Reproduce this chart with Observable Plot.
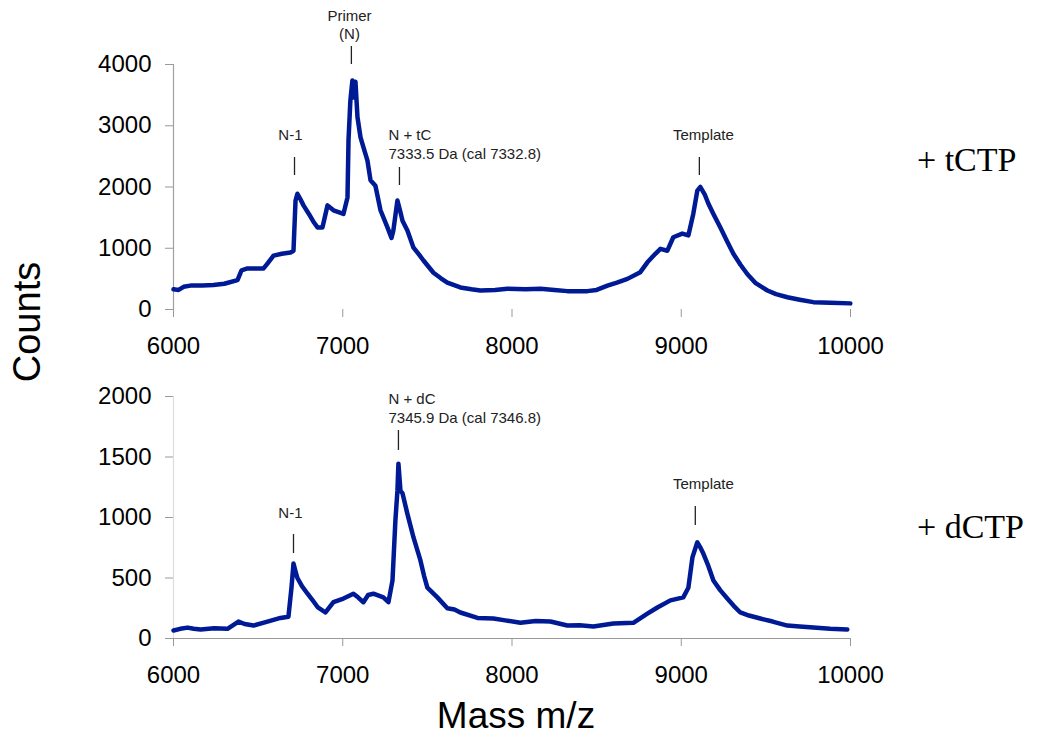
<!DOCTYPE html>
<html>
<head>
<meta charset="utf-8">
<script src="https://cdn.jsdelivr.net/npm/d3@7"></script>
<script src="https://cdn.jsdelivr.net/npm/@observablehq/plot@0.6"></script>
<style>
  body { margin: 0; background: #fff; }
  #wrap { position: relative; width: 1046px; height: 741px; overflow: hidden; font-family: Arial, "Liberation Sans", sans-serif; }
  #wrap > .p { position: absolute; left: 0; }
  .lbl { position: absolute; line-height: 1; white-space: nowrap; color: #000; }
  svg [aria-label$="axis tick"] { stroke: #999; }
  svg [aria-label="x-axis"] line, svg [aria-label="y-axis"] line { stroke: #999; }
</style>
</head>
<body>
<div id="wrap">
  <div class="p" id="top" style="top:0"></div>
  <div class="p" id="bottom" style="top:370px"></div>
  <div class="lbl" style="left:27px;top:322px;font-size:38px;transform:translate(-50%,-50%) rotate(-90deg);">Counts</div>
  <div class="lbl" style="left:416px;width:200px;text-align:center;top:697px;font-size:37px;">Mass m/z</div>
  <div class="lbl" style="left:917px;top:143px;font-size:34px;font-family:'Liberation Serif','Times New Roman',serif;">+ tCTP</div>
  <div class="lbl" style="left:917px;top:510px;font-size:34px;font-family:'Liberation Serif','Times New Roman',serif;">+ dCTP</div>
</div>
<script>
// ---- Data ----
const massTop = [6000,6030,6060,6100,6170,6236,6300,6378,6402,6437,6480,6532,6555,6591,6640,6691,6709,6721,6732,6750,6768,6800,6830,6851,6880,6910,6945,6975,7004,7028,7034,7045,7057,7063,7075,7087,7105,7122,7146,7164,7193,7223,7264,7288,7299,7323,7340,7353,7382,7418,7450,7477,7536,7580,7618,7695,7760,7813,7900,7973,8080,8168,8250,8327,8445,8500,8564,8620,8682,8758,8800,8847,8877,8918,8953,9006,9042,9071,9095,9113,9140,9160,9190,9231,9270,9308,9350,9390,9440,9509,9560,9627,9700,9780,9880,9999];
const countsTop = [330,320,370,390,390,400,420,480,640,670,670,670,750,880,910,930,960,1780,1890,1800,1700,1560,1420,1340,1340,1700,1620,1590,1560,1830,2760,3410,3740,3460,3720,3140,2810,2650,2430,2110,2020,1620,1340,1170,1290,1780,1600,1450,1290,1010,900,800,600,510,440,360,330,310,320,340,330,340,320,300,300,320,390,440,500,610,770,910,990,960,1180,1240,1210,1560,1940,2000,1870,1730,1560,1340,1120,910,730,580,430,310,250,200,160,120,110,100];

const massBottom = [6000,6040,6083,6120,6160,6240,6319,6384,6420,6473,6555,6632,6679,6697,6709,6720,6732,6760,6792,6820,6851,6898,6945,7004,7063,7090,7122,7150,7181,7240,7270,7294,7311,7323,7329,7341,7353,7382,7418,7459,7480,7500,7559,7618,7660,7695,7796,7890,7960,8050,8140,8227,8327,8400,8481,8599,8717,8800,8859,8936,9012,9042,9066,9095,9110,9131,9160,9190,9230,9272,9310,9349,9400,9467,9540,9627,9700,9780,9880,9981];
const countsBottom = [66,80,90,80,74,85,80,140,120,107,140,170,180,420,620,560,500,430,370,320,260,215,300,330,370,340,300,360,370,340,300,480,975,1220,1445,1220,1200,1030,835,645,520,420,340,250,240,215,170,165,150,130,145,140,107,110,100,124,130,205,256,315,340,420,670,795,760,700,600,480,400,330,270,215,190,165,140,107,100,90,80,74];

const xTicks = [6000,7000,8000,9000,10000];
const yTicksTop = [0,1000,2000,3000,4000];
const yTicksBottom = [0,500,1000,1500,2000];

// annotation labels (mass, counts level)
const labelTextTop = ["Primer","(N)","N-1","Template"];
const labelMassTop = [7040,7040,6691,9131];
const labelCountsTop = [4784,4490,2841,2841];
const leftTextTop = ["N + tC","7333.5 Da (cal 7332.8)"];
const leftMassTop = [7270,7270];
const leftCountsTop = [2841,2531];
const tickMassTop = [7051,6715,7335,9107];
const tickY1Top = [4294,2482,2318,2482];
const tickY2Top = [4000,2188,2024,2188];

const labelTextBottom = ["N-1","Template"];
const labelMassBottom = [6691,9131];
const labelCountsBottom = [1033,1273];
const leftTextBottom = ["N + dC","7345.9 Da (cal 7346.8)"];
const leftMassBottom = [7270,7270];
const leftCountsBottom = [1975,1818];
const tickMassBottom = [7329,6709,9083];
const tickY1Bottom = [1719,859,1091];
const tickY2Bottom = [1554,702,934];

// ---- Build ----
const lineColor = "#001a96";
const fmt = d3.format("d");
const zip = (a, b) => a.map((v, i) => ({x: v, y: b[i]}));
const zipText = (t, a, b) => t.map((s, i) => ({t: s, x: a[i], y: b[i]}));
const zipTick = (a, b, c) => a.map((v, i) => ({x: v, y1: b[i], y2: c[i]}));

function panel({height, marginTop, marginBottom, yDomain, yTicks, series, center, left, ticks, xAxisLine, yAxisColor}) {
  const marks = [
    Plot.ruleX([6000], {stroke: yAxisColor, strokeWidth: 1.2}),
  ];
  if (xAxisLine) marks.push(Plot.ruleY([0], {stroke: "#999", strokeWidth: 1.2}));
  marks.push(
    Plot.line(series, {x: "x", y: "y", stroke: lineColor, strokeWidth: 4.5, strokeLinejoin: "round", strokeLinecap: "round"}),
    Plot.text(center, {x: "x", y: "y", text: "t", textAnchor: "middle", lineAnchor: "middle", fontSize: 15, fill: "#222"}),
    Plot.text(left, {x: "x", y: "y", text: "t", textAnchor: "start", lineAnchor: "middle", fontSize: 15, fill: "#222"}),
    Plot.ruleX(ticks, {x: "x", y1: "y1", y2: "y2", stroke: "#222", strokeWidth: 1.3})
  );
  return Plot.plot({
    width: 1046,
    height,
    marginLeft: 173,
    marginRight: 196,
    marginTop,
    marginBottom,
    style: {fontFamily: "Arial, 'Liberation Sans', sans-serif", fontSize: "24px", color: "#000", background: "transparent", overflow: "visible"},
    x: {domain: [6000, 10000], ticks: xTicks, tickFormat: fmt, tickSize: 8, tickPadding: 19, label: null},
    y: {domain: yDomain, ticks: yTicks, tickFormat: fmt, tickSize: 8, tickPadding: 14, label: null},
    marks
  });
}

document.getElementById("top").appendChild(panel({
  height: 370, marginTop: 64, marginBottom: 61,
  yDomain: [0, 4000], yTicks: yTicksTop,
  series: zip(massTop, countsTop),
  center: zipText(labelTextTop, labelMassTop, labelCountsTop),
  left: zipText(leftTextTop, leftMassTop, leftCountsTop),
  ticks: zipTick(tickMassTop, tickY1Top, tickY2Top),
  xAxisLine: false, yAxisColor: "#a0a0a0"
}));

document.getElementById("bottom").appendChild(panel({
  height: 371, marginTop: 26, marginBottom: 103,
  yDomain: [0, 2000], yTicks: yTicksBottom,
  series: zip(massBottom, countsBottom),
  center: zipText(labelTextBottom, labelMassBottom, labelCountsBottom),
  left: zipText(leftTextBottom, leftMassBottom, leftCountsBottom),
  ticks: zipTick(tickMassBottom, tickY1Bottom, tickY2Bottom),
  xAxisLine: true, yAxisColor: "#dddddd"
}));
</script>
</body>
</html>
